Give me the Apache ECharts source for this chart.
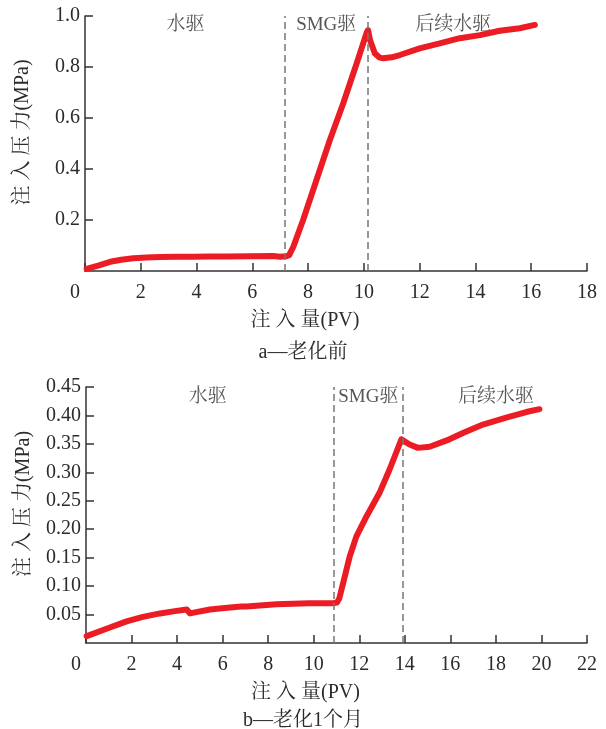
<!DOCTYPE html>
<html>
<head>
<meta charset="utf-8">
<script src="https://cdn.jsdelivr.net/npm/echarts@6/dist/echarts.min.js"></script>
<style>
html, body { margin: 0; padding: 0; background: #fff; }
#chart_box { width: 606px; height: 729px; }
</style>
</head>
<body>
<div id="chart_box"></div>
<script>
/*a—老化前 注入量(PV) / 注入压力(MPa)*/
var pvA = [0.06, 0.5, 0.9, 1.3, 1.73, 2.2, 2.69, 3.3, 3.88, 4.5, 5.08, 5.9, 6.75, 6.99, 7.22, 7.32, 7.47, 7.82, 8.3, 8.78, 9.26, 9.74, 10.1, 10.15, 10.22, 10.39, 10.55, 10.69, 11.0, 11.29, 12.0, 12.72, 13.44, 14.16, 14.87, 15.59, 16.13];
var presA = [0.008, 0.022, 0.036, 0.044, 0.05, 0.053, 0.055, 0.056, 0.056, 0.057, 0.057, 0.058, 0.059, 0.056, 0.058, 0.062, 0.095, 0.2, 0.357, 0.514, 0.658, 0.814, 0.935, 0.945, 0.906, 0.854, 0.838, 0.834, 0.838, 0.847, 0.873, 0.893, 0.913, 0.925, 0.942, 0.952, 0.965];
/*b—老化1个月*/
var pvB = [0.03, 0.9, 1.78, 2.5, 3.25, 3.9, 4.42, 4.56, 5.44, 6.2, 6.83, 7.05, 8.36, 9.82, 10.85, 11.02, 11.12, 11.29, 11.58, 11.87, 12.31, 12.89, 13.33, 13.85, 14.21, 14.58, 15.09, 15.96, 16.55, 17.43, 18.45, 19.33, 19.91];
var presB = [0.012, 0.025, 0.038, 0.046, 0.052, 0.056, 0.059, 0.052, 0.059, 0.062, 0.064, 0.064, 0.068, 0.07, 0.07, 0.071, 0.078, 0.105, 0.152, 0.187, 0.222, 0.264, 0.305, 0.358, 0.349, 0.343, 0.345, 0.358, 0.369, 0.384, 0.396, 0.406, 0.411];
/*阶段分界线*/
var splitA = [7.16, 10.15];
var splitB = [10.87, 13.9];
/*阶段名称*/
var stageNames = ['水驱', 'SMG驱', '后续水驱'];
var stageXA = [3.6, 8.65, 13.2];
var stageYA = [0.965, 0.965, 0.965];
var stageXB = [5.35, 12.4, 18.0];
var stageYB = [0.433, 0.433, 0.433];

var fontFam = '"Liberation Serif", "Noto Serif CJK SC", "Noto Sans CJK SC", serif';
var txtColor = '#2b2b2b';

function pairs(xs, ys) {
	var out = [];
	for (var i = 0; i < xs.length; i++) {
		out.push([xs[i], ys[i]]);
	}
	return out;
}

function stageData(xs, ys) {
	var out = [];
	for (var i = 0; i < xs.length; i++) {
		out.push({ value: [xs[i], ys[i]], name: stageNames[i] });
	}
	return out;
}

function makeX(idx, max) {
	return {
		type: 'value', gridIndex: idx, min: 0, max: max, interval: 2,
		name: '注 入 量(PV)', nameLocation: 'middle', nameGap: 40,
		nameTextStyle: { fontFamily: fontFam, fontSize: 20, color: txtColor, padding: [0, 62, 0, 0] },
		axisLine: { show: true, onZero: false, lineStyle: { color: '#333', width: 1.5 } },
		axisTick: { show: true, inside: true, length: 8, lineStyle: { color: '#333', width: 1.5 } },
		splitLine: { show: false },
		axisLabel: {
			margin: 12, fontFamily: fontFam, fontSize: 20, color: txtColor,
			formatter: function(v) { return v === 0 ? '{z|0}' : String(v); },
			rich: { z: { fontFamily: fontFam, fontSize: 20, color: txtColor, padding: [0, 20, 0, 0] } }
		}
	};
}

function makeY(idx, max, step, digits) {
	return {
		type: 'value', gridIndex: idx, min: 0, max: max, interval: step,
		name: '注 入 压 力(MPa)', nameLocation: 'middle', nameGap: 52,
		nameTextStyle: { fontFamily: fontFam, fontSize: 20, color: txtColor, padding: [0, 0, 0, 22] },
		axisLine: { show: true, lineStyle: { color: '#333', width: 1.5 } },
		axisTick: { show: true, inside: true, length: 8, lineStyle: { color: '#333', width: 1.5 } },
		splitLine: { show: false },
		axisLabel: {
			margin: 5, showMinLabel: false, fontFamily: fontFam, fontSize: 20, color: txtColor,
			formatter: function(v) { return v.toFixed(digits); }
		}
	};
}

function curve(idx, xs, ys, splits) {
	return {
		type: 'line', xAxisIndex: idx, yAxisIndex: idx,
		data: pairs(xs, ys), showSymbol: false, smooth: false,
		lineStyle: { color: '#ec1c24', width: 6, cap: 'round', join: 'round' },
		markLine: {
			silent: true, symbol: 'none', label: { show: false },
			lineStyle: { color: '#777', width: 1.5, type: [7, 4] },
			data: splits.map(function(s) { return { xAxis: s }; })
		},
		z: 3
	};
}

function stageLabels(idx, xs, ys) {
	return {
		type: 'scatter', xAxisIndex: idx, yAxisIndex: idx, silent: true,
		symbolSize: 0, data: stageData(xs, ys),
		label: {
			show: true, position: 'inside', formatter: '{b}',
			fontFamily: fontFam, fontSize: 19, color: txtColor
		}
	};
}

var myChart = echarts.init(document.getElementById('chart_box'));
var option = {
	animation: false,
	backgroundColor: '#fff',
	title: [{
		text: 'a—老化前', left: 'center', top: 338,
		textStyle: { fontFamily: fontFam, fontSize: 20, fontWeight: 'normal', color: txtColor }
	}, {
		text: 'b—老化1个月', left: 'center', top: 706,
		textStyle: { fontFamily: fontFam, fontSize: 20, fontWeight: 'normal', color: txtColor }
	}],
	grid: [
		{ left: 85, right: 19, top: 16, height: 255 },
		{ left: 86, right: 19, top: 387, height: 256 }
	],
	xAxis: [makeX(0, 18), makeX(1, 22)],
	yAxis: [makeY(0, 1, 0.2, 1), makeY(1, 0.45, 0.05, 2)],
	series: [
		curve(0, pvA, presA, splitA),
		curve(1, pvB, presB, splitB),
		stageLabels(0, stageXA, stageYA),
		stageLabels(1, stageXB, stageYB)
	]
};
myChart.setOption(option);
</script>
</body>
</html>
